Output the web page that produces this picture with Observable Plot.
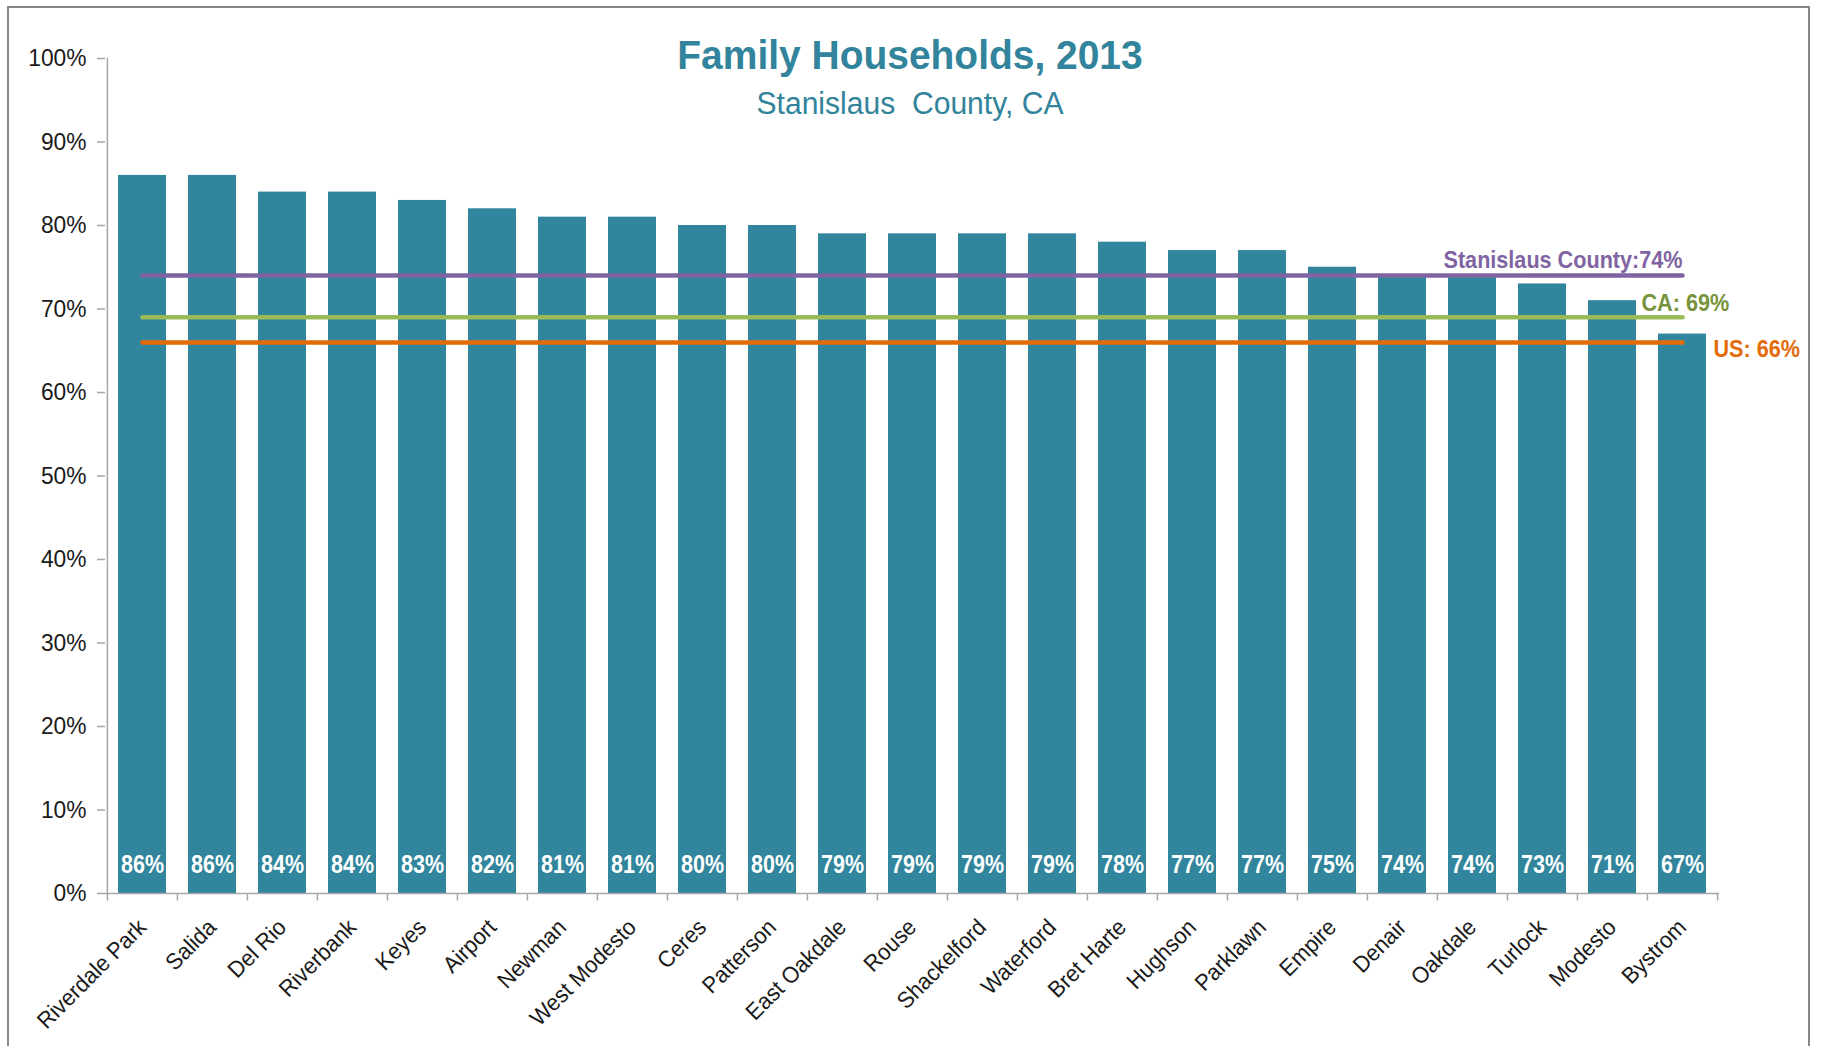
<!DOCTYPE html>
<html>
<head>
<meta charset="utf-8">
<script src="https://cdn.jsdelivr.net/npm/d3@7"></script>
<script src="https://cdn.jsdelivr.net/npm/@observablehq/plot@0.6"></script>
<style>
  html, body { margin: 0; padding: 0; background: #fff; }
  #wrap { position: relative; width: 1822px; height: 1046px; overflow: hidden; }
  #frame { position: absolute; left: 7px; top: 6px; width: 1803px; height: 1100px; box-sizing: border-box; border: 2px solid #878787; }
  .ttl { font-family: "Liberation Sans", Arial, sans-serif; position: absolute; left: 0; width: 1820px; text-align: center; line-height: 1; color: #31849B; white-space: pre; }
  #title { top: 35px; font-size: 41px; font-weight: bold; transform: scaleX(0.95); transform-origin: 910px 0; }
  #subtitle { top: 88px; font-size: 31px; transform: scaleX(0.97); transform-origin: 910px 0; }
  #chart { position: absolute; left: 0; top: 0; }
</style>
</head>
<body>
<div id="wrap">
  <div id="chart"></div>
  <div id="frame"></div>
  <div id="title" class="ttl">Family Households, 2013</div>
  <div id="subtitle" class="ttl">Stanislaus  County, CA</div>
</div>
<script>
const places = ["Riverdale Park","Salida","Del Rio","Riverbank","Keyes","Airport","Newman","West Modesto","Ceres","Patterson","East Oakdale","Rouse","Shackelford","Waterford","Bret Harte","Hughson","Parklawn","Empire","Denair","Oakdale","Turlock","Modesto","Bystrom"];
const values = [86,86,84,84,83,82,81,81,80,80,79,79,79,79,78,77,77,75,74,74,73,71,67];
const refNames = ["Stanislaus County", "CA", "US"];
const refValues = [74, 69, 66];
const refLabels = ["Stanislaus County:74%", "CA: 69%", "US: 66%"];
const refColors = ["#8064A2", "#9BBB59", "#E36C09"];
const refTextColors = ["#8064A2", "#77933C", "#E36C09"];
const yTicks = [0,10,20,30,40,50,60,70,80,90,100];

const W = 1822, H = 1046;
const ml = 105, mr = 103, mt = 58, mb = 153;
const step = (W - ml - mr) / places.length;

const bars = places.map((p, i) => ({place: p, value: values[i]}));
const first = places[0], last = places[places.length - 1];
const refLines = refNames.flatMap((n, i) => [
  {name: n, x: first, y: refValues[i], color: refColors[i]},
  {name: n, x: last, y: refValues[i], color: refColors[i]}
]);
const refs = refNames.map((n, i) => ({name: n, value: refValues[i], label: refLabels[i], color: refTextColors[i]}));
const reg = '"Liberation Sans", Arial, sans-serif';
const axisGray = "#a6a6a6";
const ink = "#1a1a1a";

const chart = Plot.plot({
  width: W, height: H,
  marginLeft: ml, marginRight: mr, marginTop: mt, marginBottom: mb,
  style: {fontFamily: reg, background: "transparent"},
  x: {type: "band", domain: places, paddingInner: 0.31, paddingOuter: 0.155, axis: null},
  y: {domain: [0, 100]},
  marks: [
    Plot.barY(bars, {x: "place", y: "value", fill: "#31859C"}),
    // y axis
    Plot.axisY({ticks: yTicks, tickSize: 8, tickPadding: 11, tickFormat: d => d + "%", fontSize: 24, stroke: axisGray, strokeWidth: 1.5, fill: ink, label: null}),
    Plot.ruleX([first], {dx: -step / 2, y1: 0, y2: 100, stroke: axisGray, strokeWidth: 1.5}),
    // x axis
    Plot.ruleY([0], {stroke: axisGray, strokeWidth: 1.5}),
    Plot.ruleX(places, {x: d => d, dx: -step / 2, y1: 0, y2: -0.9, stroke: axisGray, strokeWidth: 1.5}),
    Plot.ruleX([last], {x: d => d, dx: step / 2, y1: 0, y2: -0.9, stroke: axisGray, strokeWidth: 1.5}),
    // text marks (order matters for condensing below)
    Plot.text(places, {x: d => d, y: 0, text: d => d, rotate: -45, textAnchor: "end", lineAnchor: "middle", dx: 0, dy: 30, fontSize: 23, fill: ink}),
    Plot.text(bars, {x: "place", y: 0, text: d => d.value + "%", fill: "white", fontWeight: "bold", fontSize: 25, lineAnchor: "bottom", dy: -21}),
    // reference lines
    Plot.line(refLines, {x: "x", y: "y", z: "name", stroke: "color", strokeWidth: 4.5, strokeLinecap: "round"}),
    Plot.text(refs.slice(0, 1), {x: () => last, y: "value", text: "label", fill: "color", fontWeight: "bold", fontSize: 23, textAnchor: "end", lineAnchor: "bottom", dy: -8}),
    Plot.text(refs.slice(1, 2), {x: () => last, y: "value", text: "label", fill: "color", fontWeight: "bold", fontSize: 23, textAnchor: "start", lineAnchor: "bottom", dx: -41, dy: -6}),
    Plot.text(refs.slice(2, 3), {x: () => last, y: "value", text: "label", fill: "color", fontWeight: "bold", fontSize: 23, textAnchor: "start", lineAnchor: "top", dx: 31, dy: -2})
  ]
});

// slightly condensed lettering, as in the reference
function condense(g, k) {
  d3.select(g).selectAll("text").attr("transform", function() {
    const t = this.getAttribute("transform") || "";
    return t + ` scale(${k},1)`;
  });
}
const textGroups = chart.querySelectorAll('g[aria-label="text"]');
const factors = [0.95, 0.86, 0.94, 0.94, 0.94];
textGroups.forEach((g, i) => condense(g, factors[i] ?? 1));
chart.querySelectorAll('g[aria-label="y-axis tick label"]').forEach(g => condense(g, 0.95));

document.getElementById("chart").appendChild(chart);
</script>
</body>
</html>
